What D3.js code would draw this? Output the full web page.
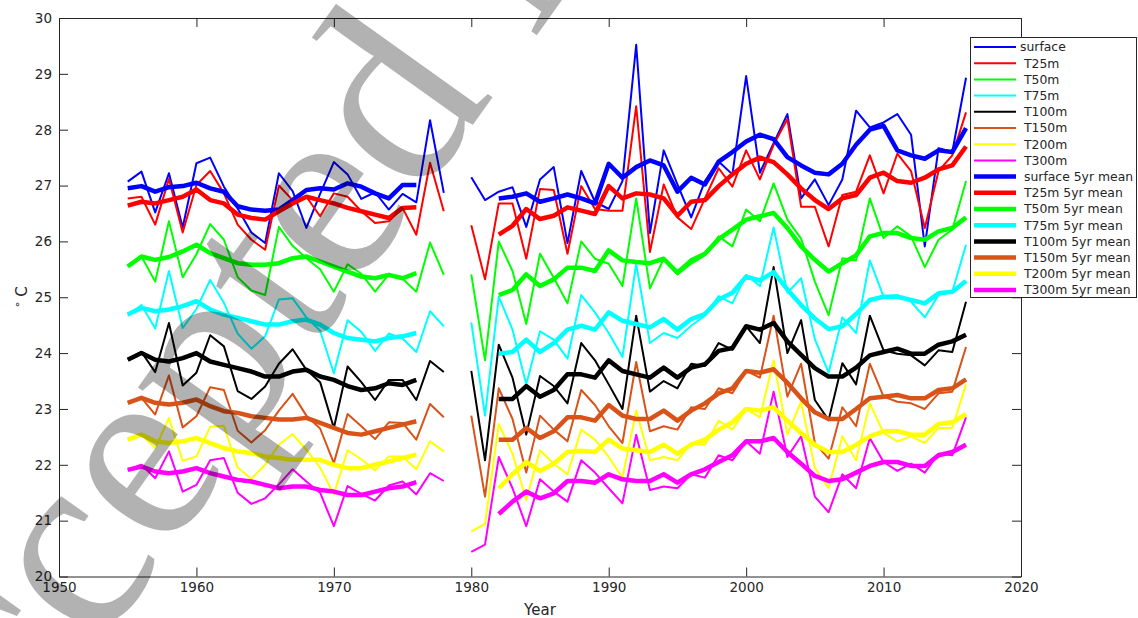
<!DOCTYPE html>
<html>
<head>
<meta charset="utf-8">
<script src="https://cdn.jsdelivr.net/npm/d3@7"></script>
<style>
  body { margin: 0; background: #fff; }
  svg { display: block; font-family: "DejaVu Sans", sans-serif; }
</style>
</head>
<body>
<svg id="chart" width="1138" height="618"></svg>
<script>
// years of the two survey periods (raw values and 5yr running means)
const yearsRaw = [d3.range(1955, 1979), d3.range(1980, 2017)];
const yearsMean = [d3.range(1955, 1977), d3.range(1982, 2017)];
const xTicks = [1950, 1960, 1970, 1980, 1990, 2000, 2010, 2020];
const yTicks = [20, 21, 22, 23, 24, 25, 26, 27, 28, 29, 30];

// yearly temperatures, [1955-1978, 1980-2016]
const surface = [
  [27.07, 27.25, 26.52, 27.22, 26.25, 27.40, 27.50, 26.98, 26.59, 26.16, 25.97, 27.22, 26.90, 26.24, 26.85, 27.42, 27.20, 26.76, 26.88, 26.57, 26.85, 26.70, 28.17, 26.87],
  [27.15, 26.74, 26.89, 26.97, 26.26, 27.11, 27.33, 25.97, 27.26, 26.71, 26.58, 27.08, 29.52, 26.15, 27.63, 27.02, 26.43, 27.08, 27.43, 27.20, 28.96, 27.23, 27.76, 28.28, 26.77, 27.11, 26.65, 27.11, 28.34, 28.04, 28.13, 28.28, 27.91, 25.91, 27.67, 27.60, 28.93]
];
const t25 = [
  [26.77, 26.80, 26.30, 27.12, 26.16, 27.01, 27.26, 26.86, 26.30, 26.03, 25.85, 27.00, 26.74, 26.80, 26.45, 26.86, 26.80, 26.54, 26.33, 26.36, 26.60, 26.12, 27.41, 26.54],
  [26.29, 25.32, 26.68, 26.68, 25.69, 26.94, 26.92, 25.78, 26.99, 26.58, 26.55, 26.55, 28.42, 25.81, 27.02, 26.43, 26.22, 26.77, 27.31, 26.98, 27.63, 27.11, 27.73, 28.19, 26.62, 26.62, 25.91, 26.83, 26.89, 27.54, 26.86, 27.57, 27.26, 26.24, 27.26, 27.54, 28.31]
];
const t50 = [
  [25.55, 25.73, 25.28, 26.36, 25.36, 25.77, 26.31, 26.03, 25.36, 25.12, 25.04, 26.26, 25.92, 25.70, 25.50, 25.10, 25.59, 25.42, 25.10, 25.41, 25.33, 25.10, 25.98, 25.40],
  [25.41, 23.87, 26.00, 25.47, 24.52, 25.78, 25.35, 24.89, 26.00, 25.69, 25.60, 25.20, 26.77, 25.16, 25.69, 25.41, 25.60, 25.75, 26.09, 25.91, 26.57, 26.36, 27.04, 26.39, 26.05, 25.28, 24.68, 25.70, 25.66, 26.77, 26.06, 26.27, 26.09, 25.54, 26.03, 26.21, 27.08]
];
const t75 = [
  [24.67, 24.86, 24.44, 25.47, 24.45, 24.79, 25.31, 24.90, 24.35, 24.08, 24.30, 24.96, 24.98, 24.64, 24.40, 23.64, 24.59, 24.38, 24.04, 24.35, 24.26, 24.02, 24.75, 24.48],
  [24.55, 22.88, 25.01, 24.42, 23.44, 24.39, 24.24, 23.90, 25.04, 24.73, 24.36, 23.93, 25.60, 24.18, 24.36, 24.27, 24.49, 24.67, 25.02, 24.89, 25.40, 25.20, 26.25, 25.08, 25.34, 24.25, 23.65, 24.64, 24.36, 25.66, 25.01, 25.04, 24.92, 24.64, 25.04, 25.10, 25.94]
];
const t100 = [
  [23.89, 24.02, 23.66, 24.54, 23.42, 23.65, 24.32, 24.12, 23.32, 23.18, 23.40, 23.81, 24.07, 23.70, 23.48, 22.66, 23.76, 23.48, 23.16, 23.52, 23.52, 23.16, 23.86, 23.66],
  [23.68, 22.08, 24.15, 23.56, 22.54, 23.59, 23.41, 23.10, 24.18, 23.87, 23.44, 23.00, 24.67, 23.31, 23.50, 23.37, 23.81, 23.77, 24.18, 24.06, 24.48, 24.18, 25.54, 24.00, 24.59, 23.16, 22.80, 23.82, 23.44, 24.67, 24.05, 23.99, 23.96, 23.78, 24.05, 24.02, 24.92]
];
const t150 = [
  [23.12, 23.20, 22.90, 23.60, 22.67, 22.87, 23.39, 23.34, 22.61, 22.40, 22.62, 22.97, 23.27, 22.88, 22.65, 22.03, 22.91, 22.69, 22.46, 22.76, 22.75, 22.45, 23.09, 22.85],
  [22.88, 21.43, 23.37, 22.82, 21.86, 22.88, 22.63, 22.42, 23.34, 23.07, 22.69, 22.39, 23.84, 22.60, 22.69, 22.63, 23.03, 23.00, 23.37, 23.28, 23.68, 23.56, 24.67, 23.22, 23.81, 22.39, 22.11, 23.03, 22.69, 23.81, 23.22, 23.13, 23.10, 23.00, 23.28, 23.31, 24.11]
];
const t200 = [
  [22.45, 22.54, 22.30, 22.84, 22.07, 22.15, 22.68, 22.70, 21.95, 21.75, 22.00, 22.36, 22.55, 22.27, 21.95, 21.47, 22.26, 22.10, 21.90, 22.15, 22.15, 21.92, 22.42, 22.24],
  [20.81, 20.94, 22.73, 22.20, 21.37, 22.26, 22.02, 21.83, 22.63, 22.45, 22.14, 21.77, 22.97, 22.08, 22.14, 22.08, 22.39, 22.36, 22.79, 22.63, 23.00, 22.85, 23.87, 22.54, 23.13, 21.95, 21.58, 22.51, 22.08, 23.10, 22.57, 22.42, 22.51, 22.39, 22.66, 22.66, 23.44]
];
const t300 = [
  [21.91, 22.00, 21.76, 22.24, 21.52, 21.64, 22.08, 22.12, 21.50, 21.30, 21.40, 21.65, 21.92, 21.70, 21.50, 20.90, 21.62, 21.48, 21.36, 21.63, 21.70, 21.47, 21.85, 21.71],
  [20.44, 20.57, 22.14, 21.58, 20.90, 21.74, 21.52, 21.34, 22.08, 21.86, 21.58, 21.31, 22.54, 21.55, 21.61, 21.58, 21.83, 21.77, 22.17, 22.08, 22.42, 22.20, 23.31, 22.14, 22.51, 21.43, 21.15, 21.83, 21.58, 22.48, 22.05, 21.89, 22.02, 21.86, 22.20, 22.17, 22.85]
];

// 5yr means, [1955-1976, 1982-2016]
const surface5 = [
  [26.95, 26.99, 26.89, 26.97, 26.99, 27.05, 26.95, 26.89, 26.63, 26.57, 26.55, 26.57, 26.74, 26.92, 26.95, 26.93, 27.04, 26.98, 26.86, 26.77, 27.01, 27.01],
  [26.77, 26.80, 26.86, 26.71, 26.77, 26.84, 26.77, 26.68, 27.39, 27.14, 27.33, 27.45, 27.36, 26.89, 27.14, 27.02, 27.43, 27.60, 27.79, 27.91, 27.83, 27.51, 27.36, 27.23, 27.20, 27.39, 27.73, 28.00, 28.07, 27.63, 27.54, 27.48, 27.63, 27.60, 28.03]
];
const t25m5 = [
  [26.64, 26.71, 26.68, 26.74, 26.80, 26.93, 26.74, 26.68, 26.48, 26.42, 26.39, 26.54, 26.68, 26.80, 26.74, 26.68, 26.60, 26.54, 26.48, 26.42, 26.60, 26.61],
  [26.12, 26.28, 26.58, 26.40, 26.46, 26.61, 26.55, 26.49, 26.99, 26.77, 26.86, 26.84, 26.77, 26.46, 26.71, 26.74, 26.99, 27.20, 27.39, 27.50, 27.42, 27.20, 26.95, 26.74, 26.58, 26.77, 26.83, 27.14, 27.23, 27.08, 27.05, 27.14, 27.29, 27.36, 27.70]
];
const t50m5 = [
  [25.55, 25.73, 25.67, 25.72, 25.82, 25.94, 25.79, 25.70, 25.61, 25.58, 25.58, 25.61, 25.70, 25.73, 25.64, 25.55, 25.46, 25.37, 25.34, 25.40, 25.34, 25.43],
  [25.04, 25.13, 25.41, 25.20, 25.32, 25.53, 25.53, 25.47, 25.84, 25.66, 25.63, 25.61, 25.69, 25.44, 25.66, 25.78, 26.04, 26.21, 26.39, 26.45, 26.51, 26.24, 25.91, 25.67, 25.46, 25.61, 25.75, 26.09, 26.15, 26.15, 26.06, 26.03, 26.18, 26.24, 26.43]
];
const t75m5 = [
  [24.69, 24.81, 24.75, 24.78, 24.84, 24.93, 24.78, 24.69, 24.63, 24.57, 24.51, 24.51, 24.57, 24.60, 24.51, 24.36, 24.27, 24.24, 24.21, 24.27, 24.30, 24.36],
  [23.99, 24.02, 24.24, 24.02, 24.18, 24.42, 24.49, 24.42, 24.73, 24.58, 24.52, 24.46, 24.61, 24.42, 24.61, 24.70, 24.96, 25.08, 25.37, 25.30, 25.45, 25.14, 24.86, 24.62, 24.43, 24.48, 24.70, 24.95, 25.01, 25.01, 24.95, 24.89, 25.07, 25.10, 25.29]
];
const t100m5 = [
  [23.88, 24.00, 23.88, 23.85, 23.91, 24.00, 23.85, 23.79, 23.73, 23.67, 23.58, 23.58, 23.67, 23.70, 23.58, 23.52, 23.41, 23.34, 23.37, 23.46, 23.43, 23.52],
  [23.18, 23.18, 23.41, 23.22, 23.34, 23.62, 23.62, 23.56, 23.87, 23.68, 23.62, 23.56, 23.74, 23.56, 23.74, 23.80, 24.04, 24.09, 24.48, 24.42, 24.54, 24.21, 23.97, 23.73, 23.58, 23.58, 23.74, 23.96, 24.02, 24.08, 23.99, 23.99, 24.15, 24.21, 24.33]
];
const t150m5 = [
  [23.11, 23.20, 23.11, 23.08, 23.11, 23.17, 23.05, 22.96, 22.93, 22.87, 22.84, 22.81, 22.81, 22.84, 22.75, 22.66, 22.57, 22.54, 22.60, 22.66, 22.72, 22.78],
  [22.45, 22.45, 22.66, 22.48, 22.60, 22.85, 22.85, 22.79, 23.07, 22.88, 22.82, 22.82, 22.97, 22.79, 22.97, 23.10, 23.28, 23.37, 23.68, 23.65, 23.71, 23.47, 23.19, 22.94, 22.82, 22.82, 23.00, 23.19, 23.22, 23.25, 23.19, 23.19, 23.34, 23.37, 23.53]
];
const t200m5 = [
  [22.45, 22.54, 22.42, 22.39, 22.42, 22.48, 22.39, 22.30, 22.24, 22.21, 22.15, 22.12, 22.09, 22.09, 22.09, 22.00, 21.94, 21.94, 22.00, 22.06, 22.12, 22.18],
  [21.58, 21.83, 22.05, 21.89, 22.02, 22.23, 22.25, 22.23, 22.45, 22.29, 22.26, 22.23, 22.36, 22.20, 22.36, 22.45, 22.63, 22.76, 23.00, 22.97, 23.03, 22.79, 22.57, 22.36, 22.23, 22.23, 22.36, 22.51, 22.60, 22.60, 22.54, 22.54, 22.73, 22.76, 22.91]
];
const t300m5 = [
  [21.91, 21.97, 21.88, 21.85, 21.88, 21.94, 21.85, 21.79, 21.73, 21.70, 21.64, 21.58, 21.61, 21.61, 21.55, 21.52, 21.46, 21.46, 21.52, 21.58, 21.61, 21.69],
  [21.12, 21.34, 21.52, 21.40, 21.49, 21.71, 21.71, 21.68, 21.83, 21.74, 21.71, 21.71, 21.83, 21.68, 21.83, 21.92, 22.05, 22.17, 22.42, 22.42, 22.48, 22.23, 22.02, 21.80, 21.71, 21.74, 21.86, 21.98, 22.05, 22.05, 21.98, 21.98, 22.17, 22.23, 22.36]
];

const depthNames = ["surface", "T25m", "T50m", "T75m", "T100m", "T150m", "T200m", "T300m"];
const depthColors = ["#0000ff", "#ff0000", "#00ff00", "#00ffff", "#000000", "#d95319", "#ffff00", "#ff00ff"];
const rawSeries = [surface, t25, t50, t75, t100, t150, t200, t300];
const meanSeries = [surface5, t25m5, t50m5, t75m5, t100m5, t150m5, t200m5, t300m5];

const axisColor = "#262626";
const plotLeft = 59, plotRight = 1021, plotTop = 18, plotBottom = 576.5;

const svg = d3.select("#chart");

const x = d3.scaleLinear().domain([1950, 2020]).range([plotLeft, plotRight]);
const y = d3.scaleLinear().domain([20, 30]).range([plotBottom, plotTop]);

const line = d3.line()
    .x(d => x(d[0]))
    .y(d => y(d[1]));

// pair the year lists with the values, one path per period
function segments(years, values) {
    return years.map((ys, i) => ys.map((yr, j) => [yr, values[i][j]]));
}

const plot = svg.append("g");

rawSeries.forEach((s, k) => {
    plot.append("g")
        .selectAll("path")
        .data(segments(yearsRaw, s))
        .join("path")
        .attr("d", line)
        .attr("fill", "none")
        .attr("stroke", depthColors[k])
        .attr("stroke-width", 2)
        .attr("stroke-linejoin", "round");
});

meanSeries.forEach((s, k) => {
    plot.append("g")
        .selectAll("path")
        .data(segments(yearsMean, s))
        .join("path")
        .attr("d", line)
        .attr("fill", "none")
        .attr("stroke", depthColors[k])
        .attr("stroke-width", 4.5)
        .attr("stroke-linejoin", "round");
});

// axes, ticks pointing inwards, box on
function styleAxis(g) {
    g.select(".domain").attr("stroke", axisColor);
    g.selectAll(".tick line").attr("stroke", axisColor);
    g.selectAll(".tick text")
        .attr("fill", axisColor)
        .attr("font-size", "13.5px")
        .attr("font-family", "DejaVu Sans, sans-serif");
}

svg.append("g")
    .attr("transform", `translate(0,${plotBottom})`)
    .call(d3.axisBottom(x).tickValues(xTicks).tickFormat(d3.format("d"))
        .tickSizeInner(-9).tickSizeOuter(0).tickPadding(6))
    .call(styleAxis);

svg.append("g")
    .attr("transform", `translate(0,${plotTop})`)
    .call(d3.axisTop(x).tickValues(xTicks).tickFormat("")
        .tickSizeInner(-9).tickSizeOuter(0))
    .call(styleAxis);

svg.append("g")
    .attr("transform", `translate(${plotLeft},0)`)
    .call(d3.axisLeft(y).tickValues(yTicks).tickFormat(d3.format("d"))
        .tickSizeInner(-9).tickSizeOuter(0).tickPadding(7))
    .call(styleAxis);

svg.append("g")
    .attr("transform", `translate(${plotRight},0)`)
    .call(d3.axisRight(y).tickValues(yTicks).tickFormat("")
        .tickSizeInner(-9).tickSizeOuter(0))
    .call(styleAxis);

// axis labels
svg.append("text")
    .attr("x", (plotLeft + plotRight) / 2)
    .attr("y", 615)
    .attr("text-anchor", "middle")
    .attr("font-size", "15px")
    .attr("fill", axisColor)
    .text("Year");

const yLab = svg.append("text")
    .attr("transform", `translate(27,${(plotTop + plotBottom) / 2}) rotate(-90)`)
    .attr("text-anchor", "middle")
    .attr("font-size", "15px")
    .attr("fill", axisColor);
yLab.append("tspan").attr("font-size", "11px").attr("dy", "-6").text("\u2218");
yLab.append("tspan").attr("dy", "6").text(" C");

// legend
const legendLabels = depthNames.concat(depthNames.map(n => n + " 5yr mean"));
const legendColors = depthColors.concat(depthColors);
const legend = svg.append("g");

legend.append("rect")
    .attr("x", 970.5).attr("y", 37.5)
    .attr("width", 166).attr("height", 260)
    .attr("fill", "#fff")
    .attr("stroke", axisColor)
    .attr("stroke-width", 1);

const rows = legend.selectAll("g.row")
    .data(legendLabels)
    .join("g")
    .attr("class", "row")
    .attr("transform", (d, i) => `translate(0,${47 + i * 16.2})`);

rows.append("line")
    .attr("x1", 974).attr("x2", 1016)
    .attr("stroke", (d, i) => legendColors[i])
    .attr("stroke-width", (d, i) => i < 8 ? 2 : 4.5);

rows.append("text")
    .attr("x", (d, i) => i === 0 ? 1020 : 1024)
    .attr("dy", "0.35em")
    .attr("font-size", "12.4px")
    .attr("fill", axisColor)
    .text(d => d);

// watermark
svg.append("text")
    .attr("transform", "translate(-80,900) rotate(-54.5)")
    .attr("font-family", "Liberation Serif, serif")
    .attr("font-size", "262px")
    .attr("fill", "#000")
    .attr("fill-opacity", 0.3)
    .text("Accepted Manuscript");
</script>
</body>
</html>
